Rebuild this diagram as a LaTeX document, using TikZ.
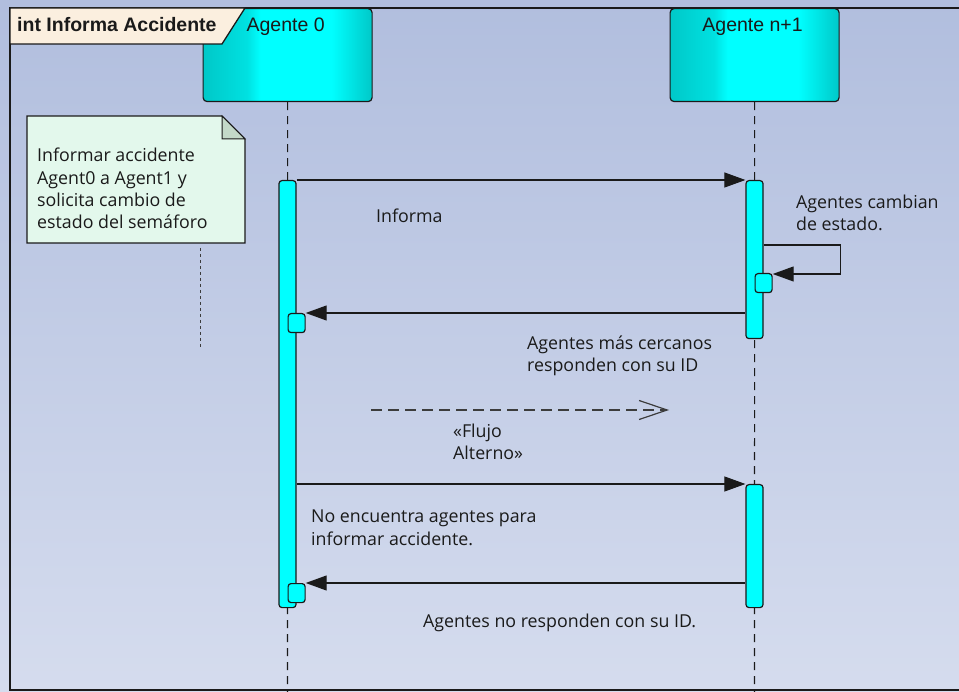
\documentclass[tikz,border=0pt]{standalone}
\usepackage{fontspec}
\setmainfont{Open Sans}
\newfontfamily\headfont{Liberation Sans}
\usetikzlibrary{arrows.meta,calc}

\definecolor{bgtop}{HTML}{B1BEDE}
\definecolor{bgbot}{HTML}{D5DCEE}
\definecolor{titlefill}{HTML}{FBEFDF}
\definecolor{notefill}{HTML}{E3F8EC}
\definecolor{notefold}{HTML}{C3D9C8}
\definecolor{lifecyan}{HTML}{00FFFF}
\definecolor{lifeteal}{HTML}{00C8C8}
\definecolor{ink}{HTML}{1A1A1A}

% head boxes: teal edges, broad bright cyan body (visible band 25bp..75bp)
\pgfdeclarehorizontalshading{agentshade}{100bp}{%
  color(0bp)=(lifeteal); color(25bp)=(lifeteal); color(38bp)=(lifeteal!55!lifecyan);
  color(42bp)=(lifecyan); color(63bp)=(lifecyan); color(75bp)=(lifeteal);
  color(100bp)=(lifeteal)}

\tikzset{
  agentbox/.style={draw=ink, line width=1.2pt, rounded corners=4pt,
    shading=agentshade,
    minimum width=169pt, minimum height=93pt, anchor=north west, inner sep=0pt},
  agentname/.style={font=\headfont\fontsize{19.5}{22}\selectfont, text=ink,
    inner sep=0pt, anchor=base},
  actbar/.style={draw=ink, line width=1.2pt, fill=lifecyan, rounded corners=3pt,
    minimum width=17pt, anchor=north, inner sep=0pt},
  actsq/.style={draw=ink, line width=1.2pt, fill=lifecyan, rounded corners=3pt,
    minimum width=17pt, minimum height=19pt, anchor=north west, inner sep=0pt},
  lifeline/.style={draw=ink, line width=1.1pt, dash pattern=on 8pt off 6pt},
  msg/.style={draw=ink, line width=1.1pt, -{Triangle[length=21pt,width=15pt]}},
  altflow/.style={draw=ink!85, line width=1.2pt, dash pattern=on 11pt off 6pt,
    -{Straight Barb[length=28pt,width=19pt,line width=1.2pt]}},
  % labels are placed by the baseline of their last line
  lbl/.style={font=\fontsize{17.8}{22.4}\selectfont, text=ink, align=left,
    anchor=base west, inner sep=0pt},
}

\begin{document}
\begin{tikzpicture}[x=1pt,y=-1pt]
\useasboundingbox (0,0) rectangle (959,692);
% backdrop
\shade[top color=bgtop, bottom color=bgbot] (0,0) rectangle (959,692);
% frame
\draw[ink, line width=1.3pt] (959,8) -- (10,8) -- (10,690) -- (959,690);

% lifeline heads
\node[agentbox] (a0) at (202.5,8) {};
\node[agentbox] (an) at (669.5,8) {};
\node[agentname] (a0name) at ($(a0.north)+(-2,24)$) {Agente 0};
\node[agentname] (anname) at ($(an.north)+(-2,24)$) {Agente n+1};

% frame title tab
\draw[ink, line width=1.3pt, fill=titlefill]
  (10,8) -- (245,8) -- (222,44) -- (10,44) -- cycle;
\node[font=\headfont\bfseries\fontsize{19.5}{22}\selectfont, text=ink,
  anchor=base west, inner sep=0pt] (title) at (17,32) {int Informa Accidente};

% lifelines
\coordinate (a0end) at (287.5,692);
\coordinate (anend) at (754.5,692);
\draw[lifeline] (a0.south) -- (a0end);
\draw[lifeline] (an.south) -- (anend);

% activations
\node[actbar, minimum height=427pt] (b0) at (287.5,180) {};
\node[actbar, minimum height=158pt] (bn1) at (754.5,180) {};
\node[actbar, minimum height=123pt] (bn2) at (754.5,484) {};
\node[actsq] (sq1) at (754.5,273) {};
\node[actsq] (sq2) at (287.5,313) {};
\node[actsq] (sq3) at (287.5,583) {};

% messages
\draw[msg] (b0.east |- bn1.north) -- (bn1.north west);
\draw[msg] ($(bn1.north east)+(0,65)$) -- ++(77,0) |- ($(sq1.north east)+(0,1)$);
\draw[msg] (bn1.west |- sq2.north) -- (sq2.north east);
\draw[msg] (b0.east |- bn2.north) -- (bn2.north west);
\draw[msg] (bn2.west |- sq3.north) -- (sq3.north east);

% alternative flow
\coordinate (altA) at (371,410);
\coordinate (altB) at (669,410);
\draw[altflow] (altA) -- (altB);

% labels
\node[lbl] (l1) at (376,223) {Informa};
\node[lbl] (l2) at (796,231) {Agentes cambian\\de estado.};
\node[lbl] (l3) at (527,372) {Agentes más cercanos\\responden con su ID};
\node[lbl] (l4) at (453,460) {«Flujo\\Alterno»};
\node[lbl] (l5) at (311,545) {No encuentra agentes para\\informar accidente.};
\node[lbl] (l6) at (423,627) {Agentes no responden con su ID.};

% note
\coordinate (nTL) at (27,116);
\coordinate (nBR) at (245,243);
\draw[ink, line width=1.2pt, fill=notefill]
  (nTL) -- (222,116) -- (245,139) |- (nBR) -- (27,243) -- cycle;
\draw[ink, line width=1pt, fill=notefold] (222,116) -- (222,139) -- (245,139) -- cycle;
\node[lbl] (ntext) at (37,229) {Informar accidente\\Agent0 a Agent1 y\\solicita cambio de\\estado del semáforo};
\coordinate (nlinkA) at (200.5,248);
\coordinate (nlinkB) at (200.5,348);
\draw[ink!85, line width=1.2pt, dash pattern=on 3pt off 3pt] (nlinkA) -- (nlinkB);
\end{tikzpicture}
\end{document}
